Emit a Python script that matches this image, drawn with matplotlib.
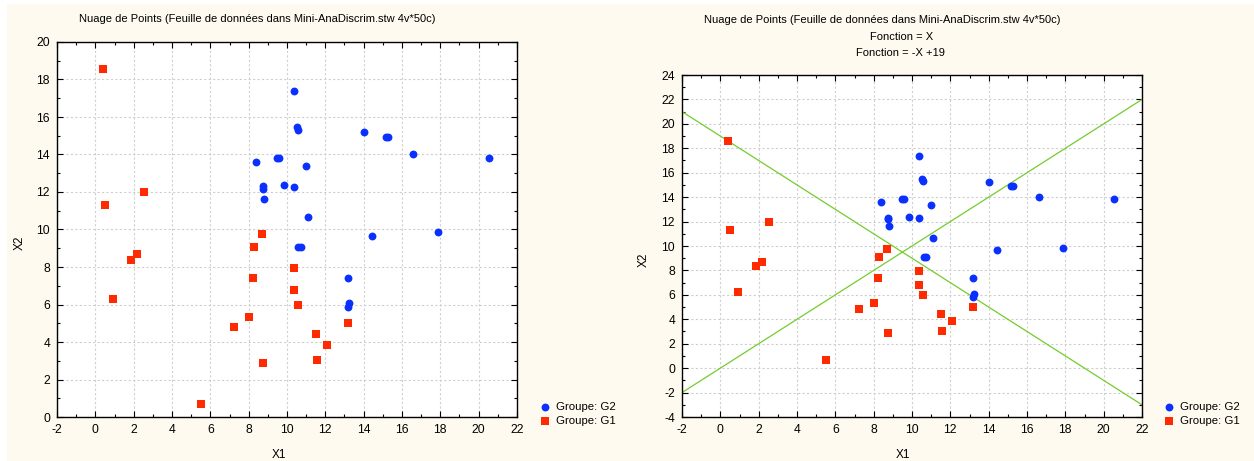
import numpy as np
import matplotlib
matplotlib.use("Agg")
import matplotlib.pyplot as plt
from matplotlib.patches import Rectangle
from matplotlib.ticker import MultipleLocator

plt.rcParams["font.family"] = ["Liberation Sans", "DejaVu Sans"]
plt.rcParams["axes.unicode_minus"] = False

# Groupe G2 (blue circles)
g2_x = [10.35, 10.52, 10.56, 14.04, 15.15, 15.25, 16.60, 20.55, 8.40, 9.47,
        9.57, 10.99, 8.75, 8.75, 9.83, 10.35, 8.81, 11.08, 10.60, 10.72,
        14.45, 17.86, 13.17, 13.24, 13.17]
g2_y = [17.39, 15.48, 15.32, 15.20, 14.94, 14.94, 14.05, 13.82, 13.62, 13.82,
        13.82, 13.36, 12.30, 12.18, 12.38, 12.27, 11.65, 10.69, 9.09, 9.09,
        9.64, 9.84, 7.42, 6.06, 5.86]

# Groupe G1 (red squares)
g1_x = [0.38, 0.53, 2.56, 1.86, 2.19, 0.94, 5.49, 8.68, 8.30, 8.21,
        10.39, 10.35, 10.56, 8.04, 7.26, 11.51, 12.09, 11.55, 8.73, 13.17]
g1_y = [18.56, 11.31, 12.00, 8.38, 8.69, 6.27, 0.69, 9.77, 9.09, 7.42,
        7.96, 6.77, 6.00, 5.33, 4.81, 4.44, 3.85, 3.04, 2.90, 5.01]

title = "Nuage de Points (Feuille de données dans Mini-AnaDiscrim.stw 4v*50c)"
line_x = np.array([-2, 22])

cream = "#FFFAF0"
blue = "#0A30FF"
red = "#FF2A00"
green = "#74CC2C"

W, H = 1254, 461
fig = plt.figure(figsize=(12.54, 4.61), dpi=100, facecolor="white")
fig.patches.append(Rectangle((7 / W, 0), 1 - 7 / W, 1 - 4 / H,
                             transform=fig.transFigure, facecolor=cream,
                             edgecolor="none", zorder=-10))

ax1 = fig.add_axes([57 / W, 1 - 417 / H, 460 / W, 375 / H])
ax2 = fig.add_axes([682 / W, 1 - 417 / H, 460 / W, 342 / H])


def style(ax, ylo, yhi):
    ax.set_facecolor("white")
    ax.set_xlim(-2, 22)
    ax.set_ylim(ylo, yhi)
    ax.xaxis.set_major_locator(MultipleLocator(2))
    ax.yaxis.set_major_locator(MultipleLocator(2))
    ax.xaxis.set_minor_locator(MultipleLocator(1))
    ax.yaxis.set_minor_locator(MultipleLocator(1))
    ax.tick_params(which="both", direction="in", top=True, right=True,
                   labelsize=8.7, color="black", pad=5)
    ax.tick_params(which="major", length=4, width=0.8)
    ax.tick_params(which="minor", length=2, width=0.8)
    ax.grid(True, which="major", color="#cfcfcf", linestyle=(0, (2, 2)),
            linewidth=0.8)
    ax.set_axisbelow(True)
    for s in ax.spines.values():
        s.set_linewidth(1.0)


for ax in (ax1, ax2):
    ax.scatter(g2_x, g2_y, s=32, marker="o", color=blue, linewidths=0,
               label="Groupe: G2", zorder=3)
    ax.scatter(g1_x, g1_y, s=26, marker="s", color=red, linewidths=0,
               label="Groupe: G1", zorder=3)

ax2.plot(line_x, line_x, color=green, lw=0.9, zorder=2)
ax2.plot(line_x, -line_x + 19, color=green, lw=0.9, zorder=2)

style(ax1, 0, 20)
style(ax2, -4, 24)

fig.text(257 / W, 1 - 19 / H, title, ha="center", va="center", fontsize=8)
fig.text(882 / W, 1 - 20 / H, title, ha="center", va="center", fontsize=8)
fig.text(902 / W, 1 - 37 / H, "Fonction = X", ha="center", va="center", fontsize=8)
fig.text(900 / W, 1 - 53 / H, "Fonction = -X +19", ha="center", va="center", fontsize=8)

fig.text(279 / W, 1 - 455 / H, "X1", ha="center", va="center", fontsize=8.5)
fig.text(903 / W, 1 - 455 / H, "X1", ha="center", va="center", fontsize=8.5)
fig.text(20 / W, 1 - 243 / H, "X2", ha="center", va="center", fontsize=8.5, rotation=90)
fig.text(644 / W, 1 - 260 / H, "X2", ha="center", va="center", fontsize=8.5, rotation=90)

for ax, x0 in ((ax1, 538), (ax2, 1162)):
    ax.legend(loc="center left", bbox_to_anchor=(x0 / W, 1 - 414 / H),
              bbox_transform=fig.transFigure, frameon=False, fontsize=8.2,
              handletextpad=0.4, labelspacing=0.3, handlelength=1.2,
              borderpad=0, borderaxespad=0)

fig.savefig("out.png", dpi=100, facecolor=fig.get_facecolor())
